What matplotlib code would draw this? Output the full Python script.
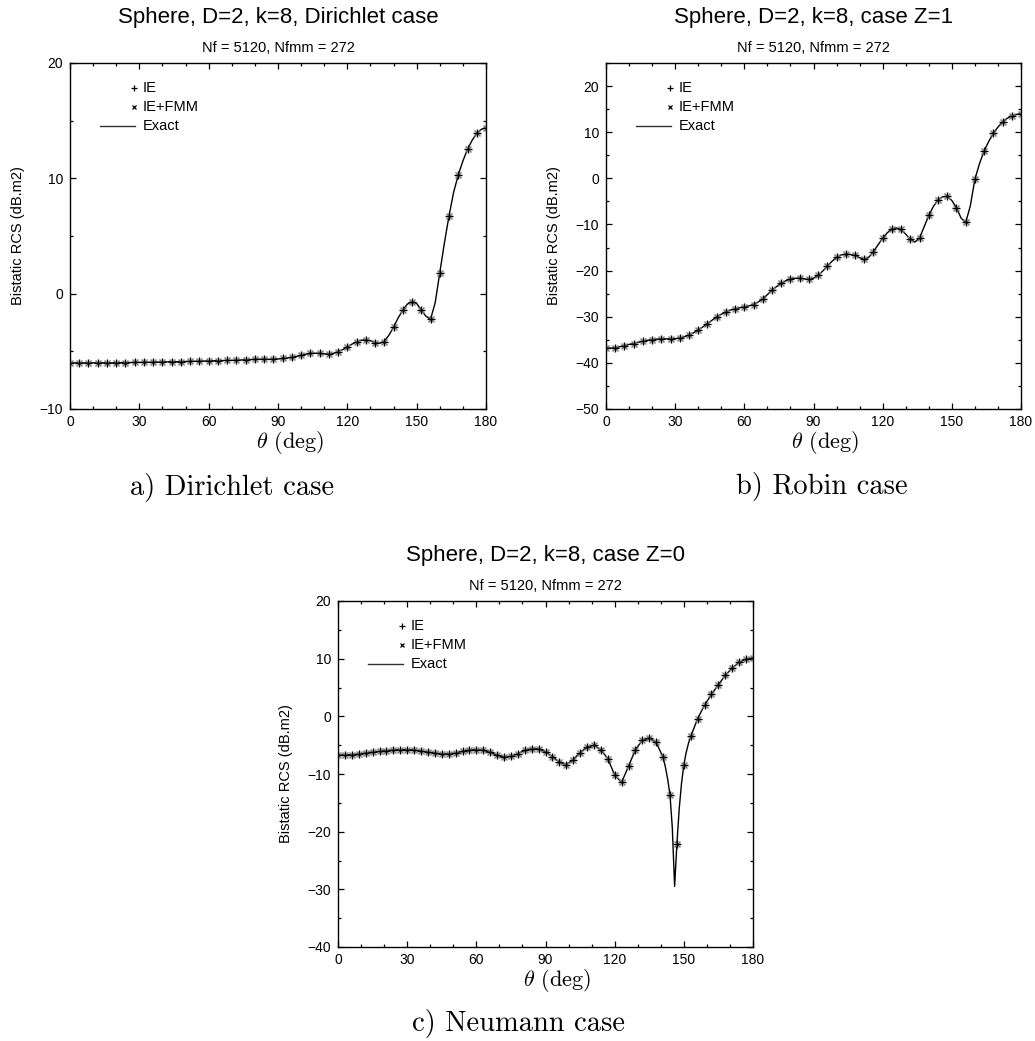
import numpy as np
import matplotlib
matplotlib.use("Agg")
import matplotlib.pyplot as plt
from matplotlib.ticker import MultipleLocator

plt.rcParams['font.family'] = ['Liberation Sans', 'DejaVu Sans']
plt.rcParams['mathtext.fontset'] = 'cm'
plt.rcParams['axes.unicode_minus'] = True

# ---------------------------------------------------------------- data
# a) Dirichlet case: computed values every 4 degrees
theta_a = np.arange(0, 181, 4)
ie_a = [-6.0, -6.0, -6.0, -6.0, -6.0, -5.98, -5.97, -5.96, -5.95, -5.94,
        -5.92, -5.9, -5.89, -5.87, -5.85, -5.83, -5.81, -5.79, -5.77, -5.73,
        -5.69, -5.68, -5.68, -5.62, -5.52, -5.35, -5.18, -5.18, -5.24, -5.02,
        -4.64, -4.17, -4.0, -4.25, -4.15, -2.93, -1.42, -0.68, -1.42, -2.18,
        1.81, 6.75, 10.3, 12.52, 13.9, 14.4]
fmm_a = [-6.0, -6.0, -6.0, -6.0, -6.0, -5.98, -5.97, -5.96, -5.95, -5.94,
         -5.92, -5.9, -5.89, -5.87, -5.85, -5.83, -5.81, -5.79, -5.77, -5.73,
         -5.69, -5.68, -5.68, -5.62, -5.52, -5.35, -5.18, -5.18, -5.24, -5.02,
         -4.64, -4.17, -4.0, -4.25, -4.15, -2.93, -1.42, -0.68, -1.42, -2.18,
         1.81, 6.75, 10.3, 12.52, 13.9, 14.4]
# exact solution every 2 degrees
theta_a_exact = np.arange(0, 181, 2)
exact_a = [-6.0, -6.0, -6.0, -6.0, -6.0, -6.0, -6.0, -6.0, -6.0, -6.0,
           -5.98, -5.98, -5.97, -5.97, -5.96, -5.96, -5.95, -5.95, -5.94, -5.93,
           -5.92, -5.91, -5.9, -5.9, -5.89, -5.88, -5.87, -5.86, -5.85, -5.84,
           -5.83, -5.82, -5.81, -5.8, -5.79, -5.78, -5.77, -5.75, -5.73, -5.71,
           -5.69, -5.68, -5.68, -5.69, -5.68, -5.66, -5.62, -5.58, -5.52, -5.44,
           -5.35, -5.25, -5.18, -5.16, -5.18, -5.22, -5.24, -5.18, -5.02, -4.85,
           -4.62, -4.38, -4.17, -4.04, -4.0, -4.08, -4.24, -4.3, -4.13, -3.6,
           -2.9, -2.1, -1.42, -0.9, -0.68, -0.85, -1.42, -1.95, -2.22, -0.8,
           1.81, 4.4, 6.75, 8.8, 10.3, 11.5, 12.52, 13.3, 13.9, 14.25, 14.4]

# b) Robin case (Z=1)
theta_b = np.arange(0, 181, 4)
ie_b = [-36.76, -36.7, -36.25, -35.82, -35.31, -34.95, -34.8, -34.8, -34.66, -33.94,
        -32.92, -31.48, -30.03, -28.94, -28.29, -27.86, -27.35, -26.12, -24.24, -22.79,
        -21.78, -21.64, -21.92, -21.06, -19.03, -17.08, -16.43, -16.71, -17.58, -15.92,
        -13.02, -10.93, -11.07, -13.24, -12.88, -8.03, -4.7, -3.91, -6.37, -9.48,
        -0.22, 5.93, 9.77, 12.23, 13.53, 14.04]
fmm_b = [-36.76, -36.7, -36.25, -35.82, -35.31, -34.95, -34.8, -34.8, -34.66, -33.94,
         -32.92, -31.48, -30.03, -28.94, -28.29, -27.86, -27.35, -26.12, -24.24, -22.79,
         -21.78, -21.64, -21.92, -21.06, -19.03, -17.08, -16.43, -16.71, -17.58, -15.92,
         -13.02, -10.93, -11.07, -13.24, -12.88, -8.03, -4.7, -3.91, -6.37, -9.48,
         -0.22, 5.93, 9.77, 12.23, 13.53, 14.04]
theta_b_exact = np.arange(0, 181, 2)
exact_b = [-36.8, -36.8, -36.7, -36.5, -36.25, -36.0, -35.8, -35.55, -35.3, -35.1,
           -34.95, -34.85, -34.8, -34.8, -34.78, -34.75, -34.6, -34.35, -33.95, -33.45,
           -32.9, -32.2, -31.5, -30.75, -30.05, -29.45, -28.95, -28.55, -28.3, -28.05,
           -27.85, -27.65, -27.35, -26.8, -26.1, -25.2, -24.25, -23.45, -22.8, -22.2,
           -21.8, -21.65, -21.65, -21.8, -21.9, -21.65, -21.05, -20.1, -19.05, -18.0,
           -17.1, -16.6, -16.45, -16.5, -16.75, -17.2, -17.58, -17.1, -15.9, -14.4,
           -13.0, -11.8, -10.95, -10.75, -11.1, -12.1, -13.25, -13.8, -12.9, -10.5,
           -8.03, -6.1, -4.7, -4.0, -3.9, -4.8, -6.4, -8.6, -9.6, -6.0,
           -0.22, 3.2, 5.93, 8.0, 9.77, 11.1, 12.23, 13.0, 13.53, 13.85, 14.04]

# c) Neumann case (Z=0): computed values every 3 degrees
theta_c = np.arange(0, 181, 3)
ie_c = [-6.71, -6.7, -6.65, -6.53, -6.36, -6.18, -6.07, -5.95, -5.84, -5.78,
        -5.78, -5.84, -6.01, -6.18, -6.36, -6.53, -6.53, -6.36, -6.07, -5.84,
        -5.78, -5.9, -6.24, -6.76, -7.05, -6.94, -6.47, -5.9, -5.61, -5.66,
        -6.13, -7.0, -7.92, -8.38, -7.51, -6.3, -5.32, -5.03, -5.78, -7.34,
        -10.17, -11.45, -8.67, -5.78, -4.16, -3.76, -4.51, -7.11, -13.64, -22.08,
        -8.44, -3.47, -0.4, 1.97, 3.82, 5.49, 7.11, 8.38, 9.36, 9.94, 10.12]
fmm_c = [-6.71, -6.7, -6.65, -6.53, -6.36, -6.18, -6.07, -5.95, -5.84, -5.78,
         -5.78, -5.84, -6.01, -6.18, -6.36, -6.53, -6.53, -6.36, -6.07, -5.84,
         -5.78, -5.9, -6.24, -6.76, -7.05, -6.94, -6.47, -5.9, -5.61, -5.66,
         -6.13, -7.0, -7.92, -8.38, -7.51, -6.3, -5.32, -5.03, -5.78, -7.34,
         -10.17, -11.45, -8.67, -5.78, -4.16, -3.76, -4.51, -7.11, -13.64, -22.08,
         -8.44, -3.47, -0.4, 1.97, 3.82, 5.49, 7.11, 8.38, 9.36, 9.94, 10.12]
theta_c_exact = [0, 3, 6, 9, 12, 15, 18, 21, 24, 27, 30, 33, 36, 39, 42, 45, 48,
                 51, 54, 57, 60, 63, 66, 69, 72, 75, 78, 81, 84, 87, 90, 93, 96,
                 99, 102, 105, 108, 111, 114, 117, 120, 123, 126, 129, 132, 135,
                 138, 141, 142, 143, 144, 145, 146, 147, 148, 149, 150, 151, 152,
                 153, 156, 159, 162, 165, 168, 171, 174, 177, 180]
exact_c = [-6.71, -6.7, -6.65, -6.53, -6.36, -6.18, -6.07, -5.95, -5.84, -5.78,
           -5.78, -5.84, -6.01, -6.18, -6.36, -6.53, -6.53, -6.36, -6.07, -5.84,
           -5.78, -5.9, -6.24, -6.76, -7.05, -6.94, -6.47, -5.9, -5.61, -5.66,
           -6.13, -7.0, -7.92, -8.38, -7.51, -6.3, -5.32, -5.03, -5.78, -7.34,
           -10.17, -11.45, -8.67, -5.78, -4.16, -3.76, -4.51, -7.11,
           -8.8, -10.9, -13.64, -19.3, -29.5, -22.08, -16.0, -11.6, -8.44, -6.3,
           -4.7, -3.47, -0.4, 1.97, 3.82, 5.49, 7.11, 8.38, 9.36, 9.94, 10.12]

titles = ["Sphere, D=2, k=8, Dirichlet case",
          "Sphere, D=2, k=8, case Z=1",
          "Sphere, D=2, k=8, case Z=0"]
subtitle = "Nf = 5120, Nfmm = 272"
captions = ["a) Dirichlet case", "b) Robin case", "c) Neumann case"]
ylabel = "Bistatic RCS (dB.m2)"
legend_labels = ["IE", "IE+FMM", "Exact"]

# ---------------------------------------------------------------- figure
W, H = 1035, 1041
fig = plt.figure(figsize=(W / 100, H / 100), dpi=100)


def fx(px):
    return px / W


def fy(py):
    return 1 - py / H


def panel(box, ylim, title, caption, th_m, ie, fmm, th_e, ex, cap_x, cap_y):
    left, top, right, bottom = box
    ax = fig.add_axes([fx(left), fy(bottom), fx(right - left), (bottom - top) / H])
    ax.plot(th_e, ex, color='black', lw=1.0, zorder=2)
    ax.plot(th_m, fmm, ls='none', marker='x', ms=4.6, mew=1.0,
            color='#7a7a7a', zorder=3)
    ax.plot(th_m, ie, ls='none', marker='+', ms=6.0, mew=1.0,
            color='black', zorder=4)

    ax.set_xlim(0, 180)
    ax.set_ylim(*ylim)
    ax.xaxis.set_major_locator(MultipleLocator(30))
    ax.xaxis.set_minor_locator(MultipleLocator(10))
    ax.yaxis.set_major_locator(MultipleLocator(10))
    ax.yaxis.set_minor_locator(MultipleLocator(5))
    ax.tick_params(which='both', direction='in', top=True, right=True,
                   labelsize=10, width=0.9)
    ax.tick_params(which='major', length=4.5, pad=5)
    ax.tick_params(axis='x', which='major', pad=4.5)
    ax.tick_params(which='minor', length=2.2)
    for s in ax.spines.values():
        s.set_linewidth(1.0)

    ax.set_ylabel(ylabel, fontsize=10.5)
    ax.yaxis.label.set_va('center')
    ax.yaxis.set_label_coords(-52 / (right - left), 0.5)

    # key in the upper-left corner
    wpx = right - left
    hpx = bottom - top
    tx = 73 / wpx
    mx = 64 / wpx
    rows = [1 - 25 / hpx, 1 - 44 / hpx, 1 - 63 / hpx]
    ax.plot([mx], [rows[0]], marker='+', ms=5.0, mew=0.9, color='black',
            transform=ax.transAxes)
    ax.plot([mx], [rows[1]], marker='x', ms=3.4, mew=0.9, color='black',
            transform=ax.transAxes)
    ax.plot([30 / wpx, 65 / wpx], [rows[2], rows[2]], color='#333333', lw=1.0,
            transform=ax.transAxes)
    for r, lab in zip(rows, legend_labels):
        ax.text(tx, r, lab, transform=ax.transAxes, fontsize=10.5,
                va='center', ha='left')

    cx = (left + right) / 2
    fig.text(fx(cx), fy(top - 40), title, fontsize=16, ha='center', va='baseline')
    fig.text(fx(cx), fy(top - 11), subtitle, fontsize=10.5, ha='center', va='baseline')
    fig.text(fx(cx + 12), fy(bottom + 39), r'$\theta$ (deg)', fontfamily='cmr10',
             fontsize=16, ha='center', va='baseline')
    fig.text(fx(cap_x), fy(cap_y), caption, fontfamily='cmr10',
             fontsize=20.5, ha='center', va='baseline')
    return ax


panel((70, 63, 486, 409), (-10, 20), titles[0], captions[0],
      theta_a, ie_a, fmm_a, theta_a_exact, exact_a, 232.5, 495)
panel((606, 63, 1021, 409), (-50, 25), titles[1], captions[1],
      theta_b, ie_b, fmm_b, theta_b_exact, exact_b, 822, 494)
panel((338, 601, 753, 947), (-40, 20), titles[2], captions[2],
      theta_c, ie_c, fmm_c, theta_c_exact, exact_c, 519, 1031)

fig.savefig("out.png", dpi=100)
